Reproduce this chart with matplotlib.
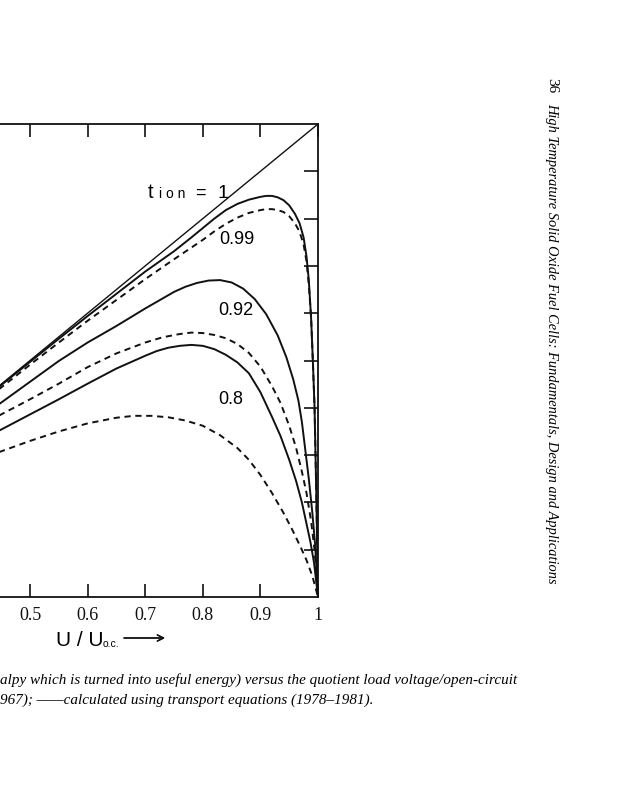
import matplotlib
matplotlib.use("Agg")
import matplotlib.pyplot as plt

# efficiency vs U / U_o.c.
ideal_u = [0.40, 1.00]
ideal_eff = [0.40, 1.00]

calc_099_u = [0.40, 0.45, 0.50, 0.55, 0.60, 0.65, 0.70, 0.75, 0.78, 0.80, 0.82, 0.84, 0.86,
              0.88, 0.90, 0.91, 0.92, 0.93, 0.94, 0.95, 0.96, 0.968, 0.975, 0.98, 0.984,
              0.988, 0.991, 0.994, 0.997, 1.0]
calc_099_eff = [0.399, 0.448, 0.497, 0.546, 0.594, 0.641, 0.688, 0.731, 0.760, 0.780, 0.800,
                0.818, 0.831, 0.840, 0.846, 0.848, 0.848, 0.845, 0.839, 0.828, 0.810, 0.790,
                0.760, 0.720, 0.670, 0.590, 0.500, 0.400, 0.220, 0.0]

meas_099_u = [0.40, 0.45, 0.50, 0.55, 0.60, 0.65, 0.70, 0.75, 0.80, 0.82, 0.84, 0.86, 0.88,
              0.90, 0.91, 0.92, 0.93, 0.94, 0.95, 0.96, 0.968, 0.975, 0.98, 0.984, 0.988,
              0.991, 0.994, 0.997, 1.0]
meas_099_eff = [0.396, 0.443, 0.491, 0.538, 0.584, 0.628, 0.672, 0.714, 0.755, 0.773, 0.789,
                0.802, 0.812, 0.818, 0.820, 0.820, 0.818, 0.814, 0.805, 0.790, 0.772, 0.745,
                0.710, 0.660, 0.590, 0.500, 0.400, 0.220, 0.0]

calc_092_u = [0.40, 0.45, 0.50, 0.55, 0.60, 0.65, 0.70, 0.75, 0.77, 0.79, 0.81, 0.83, 0.85,
              0.87, 0.89, 0.91, 0.93, 0.945, 0.957, 0.966, 0.972, 0.978, 0.984, 0.99, 0.995, 1.0]
calc_092_eff = [0.368, 0.411, 0.455, 0.499, 0.538, 0.573, 0.610, 0.645, 0.656, 0.664, 0.669,
                0.670, 0.665, 0.652, 0.630, 0.598, 0.553, 0.507, 0.460, 0.415, 0.370, 0.310,
                0.250, 0.180, 0.110, 0.0]

meas_092_u = [0.40, 0.45, 0.50, 0.55, 0.60, 0.65, 0.70, 0.73, 0.76, 0.78, 0.80, 0.82, 0.84,
              0.86, 0.88, 0.90, 0.92, 0.935, 0.95, 0.962, 0.972, 0.98, 0.988, 0.994, 1.0]
meas_092_eff = [0.355, 0.386, 0.418, 0.451, 0.486, 0.515, 0.538, 0.549, 0.556, 0.559, 0.558,
                0.554, 0.547, 0.535, 0.516, 0.487, 0.446, 0.410, 0.362, 0.315, 0.265, 0.220,
                0.160, 0.100, 0.0]

calc_080_u = [0.40, 0.45, 0.50, 0.55, 0.60, 0.65, 0.70, 0.72, 0.74, 0.76, 0.78, 0.80, 0.82,
              0.84, 0.86, 0.88, 0.90, 0.92, 0.935, 0.95, 0.962, 0.972, 0.98, 0.987, 0.993, 1.0]
calc_080_eff = [0.325, 0.354, 0.386, 0.418, 0.451, 0.483, 0.510, 0.520, 0.527, 0.531, 0.533,
                0.531, 0.524, 0.512, 0.496, 0.473, 0.433, 0.381, 0.340, 0.290, 0.245, 0.200,
                0.155, 0.115, 0.073, 0.0]

meas_080_u = [0.40, 0.45, 0.50, 0.55, 0.60, 0.65, 0.68, 0.71, 0.74, 0.77, 0.80, 0.83, 0.86,
              0.88, 0.90, 0.92, 0.94, 0.955, 0.97, 0.98, 0.99, 1.0]
meas_080_eff = [0.285, 0.308, 0.330, 0.350, 0.367, 0.379, 0.383, 0.383, 0.380, 0.373, 0.362,
                0.342, 0.315, 0.290, 0.258, 0.220, 0.178, 0.143, 0.105, 0.078, 0.045, 0.0]

xtick_values = [0.5, 0.6, 0.7, 0.8, 0.9, 1.0]
xtick_labels = ["0.5", "0.6", "0.7", "0.8", "0.9", "1"]
ytick_values = [0.1, 0.2, 0.3, 0.4, 0.5, 0.6, 0.7, 0.8, 0.9]

curve_labels = ["0.99", "0.92", "0.8"]
curve_label_u = [0.859, 0.858, 0.849]
curve_label_eff = [0.755, 0.605, 0.417]

caption_lines = [
    "alpy which is turned into useful energy) versus the quotient load voltage/open-circuit",
    "967); \u2014\u2014calculated using transport equations (1978\u20131981).",
]
running_title = "High Temperature Solid Oxide Fuel Cells: Fundamentals, Design and Applications"

SANS = ["Liberation Sans", "DejaVu Sans"]
SERIF = ["Liberation Serif", "DejaVu Serif"]


def main() -> None:
    fig = plt.figure(figsize=(6.28, 8.0), dpi=100)
    fig.patch.set_facecolor("white")

    # the page is cropped: the left part of the plot box lies off the picture
    ax = fig.add_axes([-0.4108, 0.25375, 0.9172, 0.59125])
    ax.set_xlim(0, 1)
    ax.set_ylim(0, 1)

    solid = dict(color="#111111", linewidth=1.4, solid_joinstyle="round")
    dashed = dict(color="#111111", linewidth=1.4, linestyle=(0, (3.2, 2.4)))

    ax.plot(ideal_u, ideal_eff, color="#111111", linewidth=1.0)
    ax.plot(calc_099_u, calc_099_eff, **solid)
    ax.plot(meas_099_u, meas_099_eff, **dashed)
    ax.plot(calc_092_u, calc_092_eff, **solid)
    ax.plot(meas_092_u, meas_092_eff, **dashed)
    ax.plot(calc_080_u, calc_080_eff, **solid)
    ax.plot(meas_080_u, meas_080_eff, **dashed)

    for spine in ax.spines.values():
        spine.set_linewidth(1.3)
        spine.set_color("#111111")

    ax.set_xticks(xtick_values)
    ax.set_xticklabels(xtick_labels, family=SERIF, fontsize=13)
    ax.set_yticks(ytick_values)
    ax.tick_params(axis="x", direction="in", length=9.5, width=1.2, top=True, bottom=True,
                   labeltop=False, pad=7, colors="#111111")
    ax.tick_params(axis="y", direction="in", length=10, width=1.2, right=True, left=True,
                   labelleft=False, labelright=False, colors="#111111")

    # t_ion = 1 label, "ion" drawn small and letter-spaced
    ax.text(0.705, 0.8436, "t", family=SANS, fontsize=14.5, ha="left", va="baseline")
    ax.text(0.724, 0.8436, "i o n", family=SANS, fontsize=10, ha="left", va="baseline")
    ax.text(0.787, 0.8436, "=", family=SANS, fontsize=13, ha="left", va="baseline")
    ax.text(0.826, 0.8436, "1", family=SANS, fontsize=14, ha="left", va="baseline")

    for text, u, eff in zip(curve_labels, curve_label_u, curve_label_eff):
        ax.text(u, eff, text, family=SANS, fontsize=13, ha="center", va="center")

    # axis title below the plot
    fig.text(56 / 628, 1 - 646 / 800, "U / U", family=SANS, fontsize=15, ha="left", va="baseline")
    fig.text(103 / 628, 1 - 647 / 800, "o.c.", family=SANS, fontsize=7.5, ha="left", va="baseline")
    fig.add_artist(plt.annotate(
        "", xy=(165 / 628, 1 - 638 / 800), xytext=(124 / 628, 1 - 638 / 800),
        xycoords="figure fraction", textcoords="figure fraction",
        arrowprops=dict(arrowstyle="->", lw=1.0, color="#111111", mutation_scale=11,
                        shrinkA=0, shrinkB=0),
    ))

    # figure caption (cropped on the left)
    fig.text(0.0, 1 - 684 / 800, caption_lines[0], family=SERIF, style="italic",
             fontsize=10.9, ha="left", va="baseline")
    fig.text(0.0, 1 - 704 / 800, caption_lines[1], family=SERIF, style="italic",
             fontsize=10.9, ha="left", va="baseline")

    # running head on the right edge
    fig.text(552 / 628, 1 - 78 / 800, "36", family=SERIF, fontsize=11,
             rotation=-90, ha="center", va="top")
    fig.text(552 / 628, 1 - 103 / 800, running_title, family=SERIF, style="italic",
             fontsize=10.4, rotation=-90, ha="center", va="top")

    fig.savefig("out.png", dpi=100, facecolor="white")


if __name__ == "__main__":
    main()
